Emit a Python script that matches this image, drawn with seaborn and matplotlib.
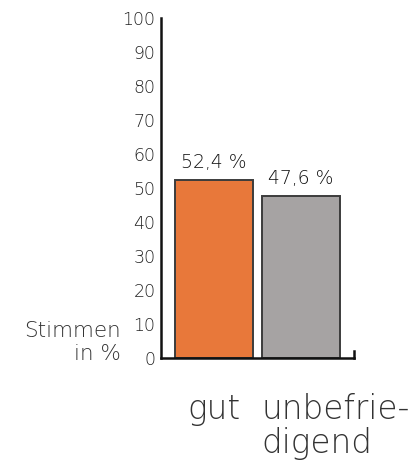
import matplotlib
matplotlib.use("Agg")
import matplotlib.pyplot as plt
import matplotlib.transforms as mtransforms
import seaborn as sns
import pandas as pd

categories = ["gut", "unbefrie-\ndigend"]
values = [52.4, 47.6]
value_labels = ["52,4 %", "47,6 %"]
colors = ["#E8783A", "#A6A3A3"]
yticks = [0, 10, 20, 30, 40, 50, 60, 70, 80, 90, 100]

sns.set_style("white")
plt.rcParams["font.family"] = ["DejaVu Sans"]
plt.rcParams["font.weight"] = 200

df = pd.DataFrame({"cat": categories, "val": values})

fig = plt.figure(figsize=(4.12, 4.65), dpi=100)
ax = fig.add_axes([161 / 412, 107 / 465, 193 / 412, 340 / 465])

sns.barplot(data=df, x="cat", y="val", hue="cat", palette=colors, width=0.9,
            edgecolor="#3c3c3c", linewidth=1.4, legend=False, ax=ax, saturation=1)

ax.set_xlim(-0.609, 1.609)
ax.set_ylim(0, 100)
ax.set_yticks(yticks)
ax.set_yticklabels([str(t) for t in yticks], fontsize=12.5, color="#222222")
ax.tick_params(axis="y", length=0, pad=4)
ax.tick_params(axis="x", length=0, pad=25, labelsize=23.5, labelcolor="#333333")
ax.set_xlabel("")
ax.set_ylabel("")

ax.spines["top"].set_visible(False)
for sp in ["left", "bottom", "right"]:
    ax.spines[sp].set_color("#111111")
    ax.spines[sp].set_linewidth(1.8)
ax.spines["right"].set_bounds(0, 2)

labels = ax.get_xticklabels()
labels[1].set_horizontalalignment("left")
labels[1].set_multialignment("left")
labels[1].set_linespacing(1.05)
labels[1].set_transform(labels[1].get_transform() +
                        mtransforms.ScaledTranslation(-0.40, 0, fig.dpi_scale_trans))

for i, (v, lab) in enumerate(zip(values, value_labels)):
    ax.annotate(lab, xy=(i, v), xytext=(0, 6), textcoords="offset points",
                ha="center", va="bottom", fontsize=13.5, color="#111111")

fig.text(121 / 412, 101 / 465, "Stimmen\nin %", ha="right", va="bottom",
         multialignment="right", fontsize=15.5, color="#333333", linespacing=1.2)

fig.savefig("out.png", dpi=100)
